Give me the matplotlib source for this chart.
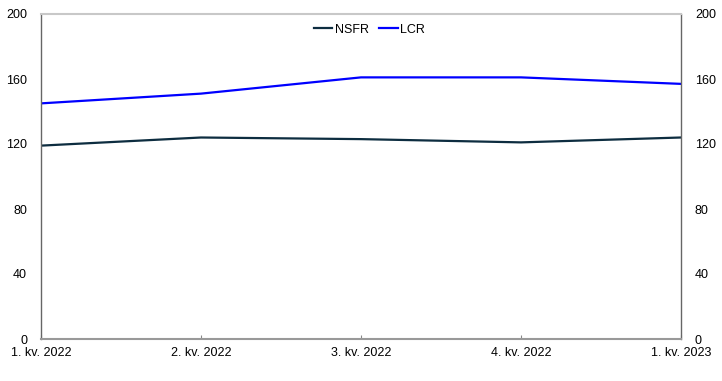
import matplotlib
matplotlib.use("Agg")
import matplotlib.pyplot as plt

categories = ["1. kv. 2022", "2. kv. 2022", "3. kv. 2022", "4. kv. 2022", "1. kv. 2023"]
nsfr = [119, 124, 123, 121, 124]
lcr = [145, 151, 161, 161, 157]
yticks = [0, 40, 80, 120, 160, 200]

plt.rcParams['font.family'] = ['Liberation Sans', 'DejaVu Sans']
fig = plt.figure(figsize=(7.22, 3.81), dpi=100)
ax = fig.add_axes([41/722, 42/381, 640/722, 325/381])
x = list(range(len(categories)))
ax.plot(x, nsfr, color="#0d2d40", lw=1.6, label="NSFR")
ax.plot(x, lcr, color="#0000ff", lw=1.6, label="LCR")
ax.set_xlim(0, len(categories) - 1)
ax.set_ylim(0, 200)
ax.set_xticks(x)
ax.set_xticklabels(categories, fontsize=9)
ax.set_yticks(yticks)
ax.set_yticklabels([str(v) for v in yticks], fontsize=9)
ax.tick_params(axis='y', length=0, pad=10)
ax.tick_params(axis='x', direction='in', length=3, color='#888888', pad=6)
for s in ['left', 'right']:
    ax.spines[s].set_color('#666666')
    ax.spines[s].set_linewidth(1.0)
ax.spines['bottom'].set_color('#999999')
ax.spines['bottom'].set_linewidth(1.5)
ax.spines['top'].set_color('#c8c8c8')
ax.spines['top'].set_linewidth(1.5)

ax2 = ax.twinx()
ax2.set_ylim(0, 200)
ax2.set_yticks(yticks)
ax2.set_yticklabels([str(v) for v in yticks], fontsize=9)
ax2.tick_params(axis='y', length=0, pad=10)
for s in ax2.spines.values():
    s.set_visible(False)

leg = ax.legend(loc='upper center', bbox_to_anchor=(0.513, 1.005), ncol=2, frameon=False,
                fontsize=9, handlelength=1.5, handletextpad=0.2, columnspacing=0.8)
fig.savefig("out.png", dpi=100)
